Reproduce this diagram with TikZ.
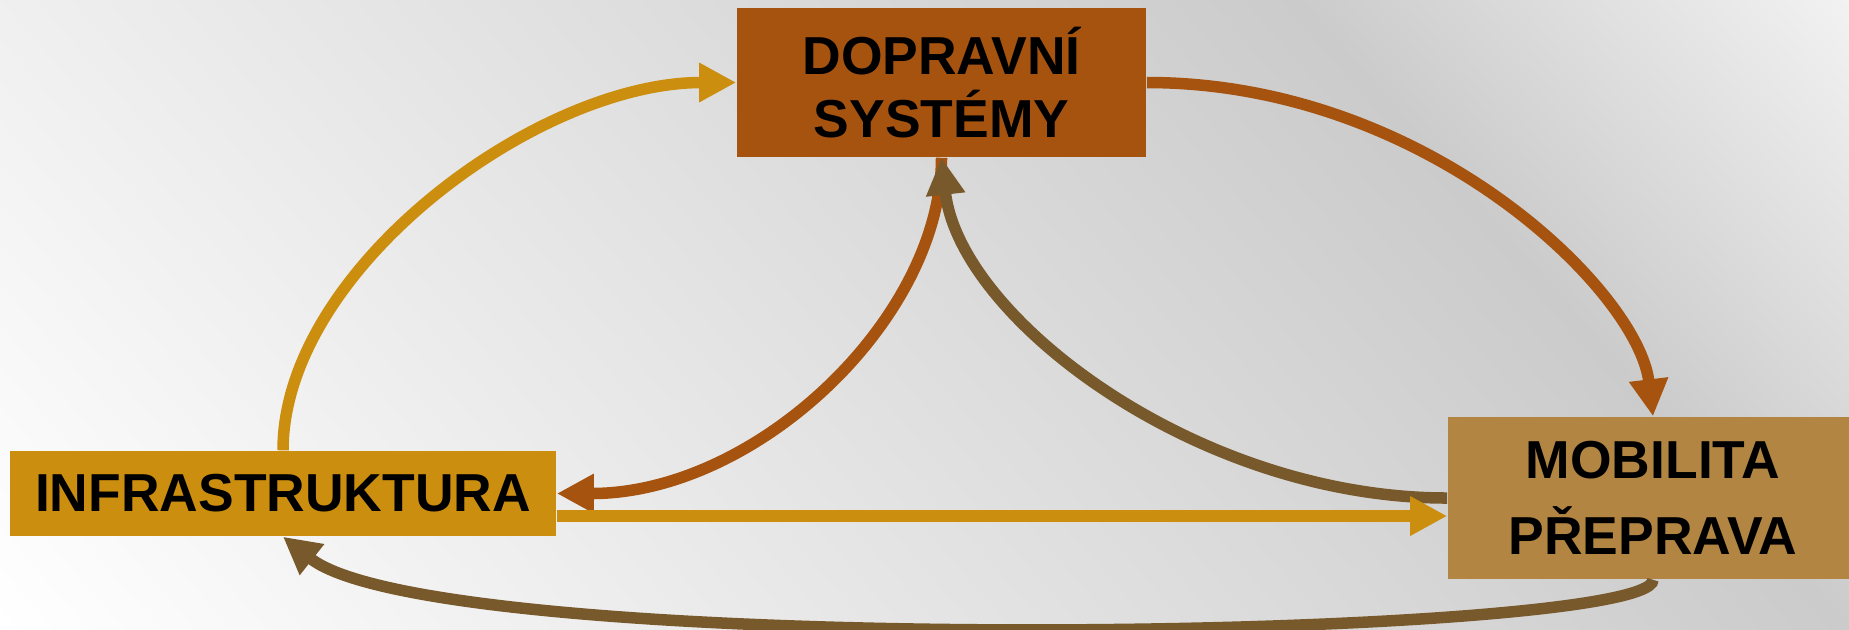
\documentclass[tikz,border=0pt]{standalone}
\usepackage{fontspec}
\setmainfont{Liberation Sans}[BoldFont={Liberation Sans Bold}]
\usetikzlibrary{arrows.meta}
\definecolor{cDop}{HTML}{A65310}
\definecolor{cInf}{HTML}{CC8E0E}
\definecolor{cMob}{HTML}{B28642}
\definecolor{cOl}{HTML}{78592B}
\definecolor{bgW}{HTML}{FFFFFF}
\definecolor{bgG}{HTML}{CBCBCB}
\definecolor{bgT}{HTML}{F2F2F2}
\pgfdeclarehorizontalshading{bgshade}{100bp}{color(0bp)=(bgW); color(27.4bp)=(bgW); color(62.2bp)=(bgG); color(72.6bp)=(bgT); color(100bp)=(bgT)}
\begin{document}
\begin{tikzpicture}[x=0.01cm,y=-0.01cm,
  box/.style={draw=none, inner sep=0pt, align=center, font=\fontsize{15.2}{18}\selectfont\bfseries},
  conn/.style={line width=0.115cm, -{Triangle[length=0.37cm,width=0.37cm]}}]
\useasboundingbox (0,0) rectangle (1849,629);
\begin{scope}
\clip (0,0) rectangle (1849,629);
\shade[shading=bgshade, shading angle=41.2] (-75.5,-685.5) rectangle (1924.5,1314.5);
\end{scope}
\begin{scope}
\clip (0,0) rectangle (1849,629);
\node[box, fill=cDop, minimum width=4.09cm, minimum height=1.49cm] (dop) at (941.5,82.5) {DOPRAVNÍ\\SYSTÉMY};
\node[box, fill=cInf, minimum width=5.46cm, minimum height=0.85cm] (inf) at (283,493.5) {INFRASTRUKTURA};
\node[box, fill=cMob, minimum width=4.10cm, minimum height=1.62cm, font=\fontsize{15.2}{21.6}\selectfont\bfseries] (mob) at (1653,498) {MOBILITA\\PŘEPRAVA};
\coordinate (hy) at (0,516);
\draw[conn, cInf] (inf.north) .. controls +(0,-180) and +(-200,0) .. (dop.west);
\draw[conn, cDop] (dop.east) .. controls +(280,0) and +(-15,-125) .. (mob.north);
\draw[conn, cDop] (dop.south) .. controls +(0,160) and +(200,0) .. (inf.east);
\draw[conn, cOl] (mob.west) .. controls +(-250,0) and +(18,160) .. (dop.south);
\draw[conn, cInf] (inf.east |- hy) -- (mob.west |- hy);
\draw[conn, cOl] (mob.south) .. controls +(0,60) and +(157,124) .. (inf.south);
\end{scope}
\end{tikzpicture}
\end{document}
